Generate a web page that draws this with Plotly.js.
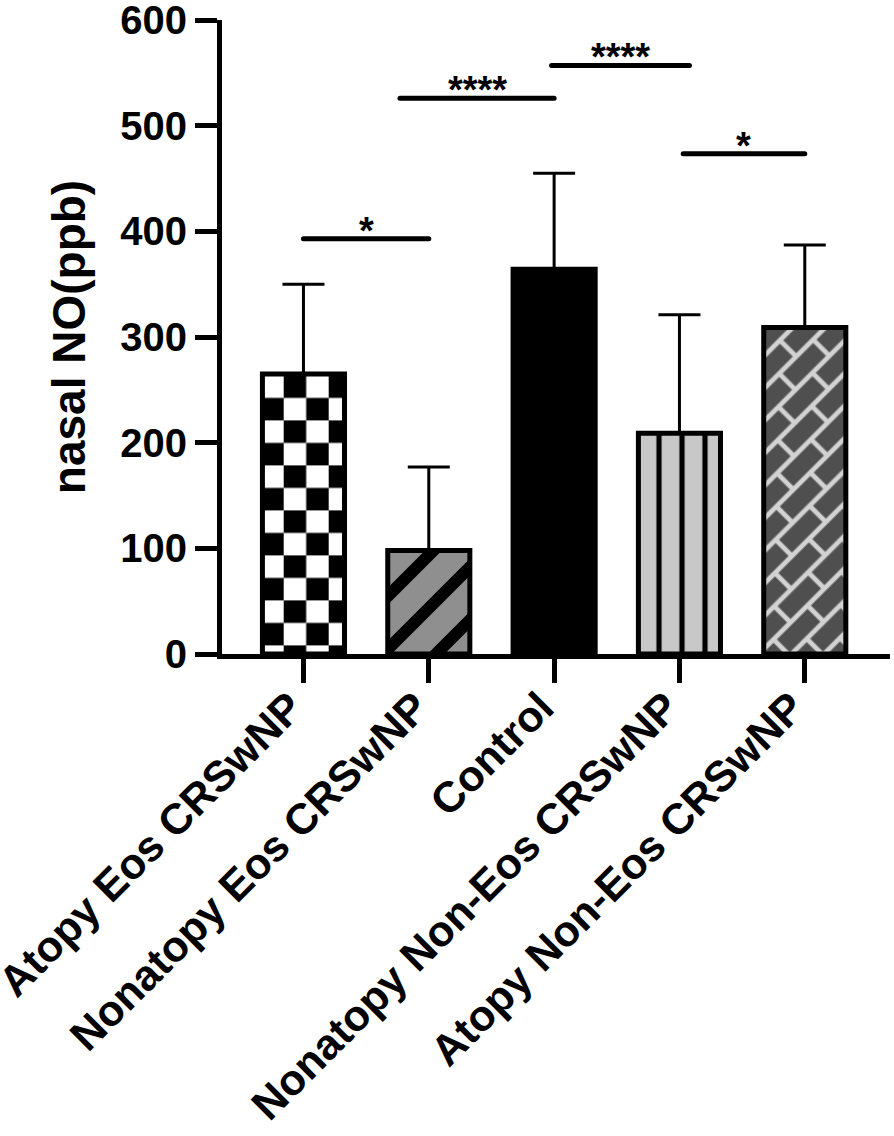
<!DOCTYPE html>
<html>
<head>
<meta charset="utf-8">
<script src="https://cdn.plot.ly/plotly-3.0.1.min.js"></script>
<style>
  html, body { margin: 0; padding: 0; background: #ffffff; }
  #chart { width: 894px; height: 1136px; }
</style>
</head>
<body>
<div id="chart"></div>
<script>
// ---- data ----
const categories = ['Atopy Eos CRSwNP', 'Nonatopy Eos CRSwNP', 'Control', 'Nonatopy Non-Eos CRSwNP', 'Atopy Non-Eos CRSwNP'];
const meanNO = [265, 98, 364, 209, 309];
const errorPlus = [85, 79, 91, 112, 78];
const yTicks = [0, 100, 200, 300, 400, 500, 600];

// significance brackets (x in category index units)
const sigX0 = [0, 0.77, 1.98, 3.03];
const sigX1 = [1, 2, 3.08, 4];
const sigY = [393, 526, 557, 473.5];
const sigLabel = ['*', '****', '****', '*'];

// ---- styles ----
const FONT = '"Liberation Sans", Arial, sans-serif';
const barColors = ['#ffffff', '#8f8f8f', '#000000', '#c8c8c8', '#4f4f4f'];
const patShape = ['x', '/', '', '|', 'x'];
const patSize = [45, 53, 10, 23, 46];
const patSolidity = [0.5, 0.32, 0.3, 0.23, 0.2];

const xIdx = categories.map((c, i) => i);

const barTrace = {
  type: 'bar',
  x: xIdx,
  y: meanNO,
  width: 0.655,
  marker: {
    color: barColors,
    line: { color: '#000000', width: 5 },
    pattern: {
      shape: patShape,
      size: patSize,
      solidity: patSolidity
    }
  },
  error_y: {
    type: 'data',
    symmetric: false,
    array: errorPlus,
    arrayminus: meanNO.map(() => 0),
    color: '#000000',
    thickness: 3,
    width: 21
  },
  hoverinfo: 'skip',
  showlegend: false
};

const lx = [], ly = [];
sigX0.forEach((x0, i) => {
  lx.push(x0, sigX1[i], null);
  ly.push(sigY[i], sigY[i], null);
});
const sigTrace = {
  type: 'scatter',
  mode: 'lines',
  x: lx,
  y: ly,
  line: { color: '#000000', width: 5 },
  connectgaps: false,
  hoverinfo: 'skip',
  showlegend: false
};

const annotations = sigLabel.map((t, i) => ({
  x: (sigX0[i] + sigX1[i]) / 2,
  y: sigY[i],
  xref: 'x', yref: 'y',
  text: '<b>' + t + '</b>',
  showarrow: false,
  yanchor: 'middle',
  yshift: 8,
  font: { family: FONT, size: 38, color: '#000000' }
}));

const layout = {
  width: 894,
  height: 1136,
  margin: { l: 222, r: 4, t: 20, b: 482, pad: 0 },
  paper_bgcolor: '#ffffff',
  plot_bgcolor: '#ffffff',
  showlegend: false,
  font: { family: FONT, color: '#000000' },
  xaxis: {
    type: 'linear',
    range: [-0.65, 4.68],
    tickvals: xIdx,
    ticktext: categories.map(c => '<b>' + c + '</b>'),
    tickangle: -45,
    tickfont: { family: FONT, size: 43, color: '#000000' },
    ticklabeloverflow: 'allow',
    ticklabelshift: -13,
    ticklabelstandoff: -18,
    showline: true, linecolor: '#000000', linewidth: 5,
    ticks: 'outside', ticklen: 24, tickwidth: 5, tickcolor: '#000000',
    showgrid: false, zeroline: false,
    fixedrange: true
  },
  yaxis: {
    range: [0, 600],
    tickvals: yTicks,
    ticktext: yTicks.map(v => '<b>' + v + '</b>'),
    tickfont: { family: FONT, size: 40, color: '#000000' },
    ticklabeloverflow: 'allow',
    showline: true, linecolor: '#000000', linewidth: 5,
    ticks: 'outside', ticklen: 22, tickwidth: 5, tickcolor: '#000000',
    showgrid: false, zeroline: false,
    title: { text: '<b>nasal NO(ppb)</b>', font: { family: FONT, size: 46, color: '#000000' }, standoff: 22 },
    fixedrange: true
  },
  annotations: annotations
};

function customizePatterns(gd) {
  const NS = 'http://www.w3.org/2000/svg';
  const pts = gd.querySelectorAll('.barlayer .point path');
  function getPat(i) {
    if (!pts[i]) return null;
    const f = pts[i].style.fill || '';
    const m = /#([^"')\s]+)/.exec(f);
    return m ? document.getElementById(m[1]) : null;
  }
  function clear(p) { while (p.firstChild) p.removeChild(p.firstChild); }
  function rect(p, x, y, w, h, c) {
    const r = document.createElementNS(NS, 'rect');
    r.setAttribute('x', x); r.setAttribute('y', y);
    r.setAttribute('width', w); r.setAttribute('height', h);
    r.setAttribute('fill', c);
    r.style.fill = c;
    p.appendChild(r);
  }
  function path(p, d, c, w) {
    const e = document.createElementNS(NS, 'path');
    e.setAttribute('d', d);
    e.setAttribute('stroke', c);
    e.setAttribute('stroke-width', w);
    e.setAttribute('fill', 'none');
    e.style.stroke = c; e.style.strokeWidth = w; e.style.fill = 'none';
    p.appendChild(e);
  }
  function setup(p, w, h, x, y, tr) {
    clear(p);
    p.setAttribute('width', w); p.setAttribute('height', h);
    p.setAttribute('x', x); p.setAttribute('y', y);
    p.setAttribute('patternTransform', tr || '');
  }
  // checkerboard (bar 0)
  let p = getPat(0);
  if (p) {
    const s = 22.5, T = 2 * s;
    setup(p, T, T, 16.7, 40.4);
    rect(p, 0, 0, T, T, '#ffffff');
    rect(p, 0, 0, s, s, '#000000');
    rect(p, s, s, s, s, '#000000');
  }
  // diagonal stripes (bar 1)
  p = getPat(1);
  if (p) {
    const S = 53;
    setup(p, S, S, 0, 0);
    rect(p, 0, 0, S, S, '#8f8f8f');
    path(p, 'M' + (-S / 2) + ',' + (S / 2) + 'L' + (S / 2) + ',' + (-S / 2) +
            'M0,' + S + 'L' + S + ',0' +
            'M' + (S / 2) + ',' + (3 * S / 2) + 'L' + (3 * S / 2) + ',' + (S / 2), '#000000', 12);
  }
  // vertical lines (bar 3)
  p = getPat(3);
  if (p) {
    const S = 23, lw = 5.2;
    setup(p, S, S, 11.5, 0);
    rect(p, 0, 0, S, S, '#c8c8c8');
    rect(p, S / 2 - lw / 2, 0, lw, S, '#000000');
  }
  // diagonal brick (bar 4)
  p = getPat(4);
  if (p) {
    const L = 48, c = 23, w = 4.8, bg = '#4f4f4f', fg = '#d2d2d2';
    setup(p, L, 2 * c, 0, 0, 'rotate(-45)');
    rect(p, 0, 0, L, 2 * c, bg);
    rect(p, 0, 0, L, w / 2, fg);
    rect(p, 0, 2 * c - w / 2, L, w / 2, fg);
    rect(p, 0, c - w / 2, L, w, fg);
    rect(p, 0, 0, w / 2, c, fg);
    rect(p, L - w / 2, 0, w / 2, c, fg);
    rect(p, L / 2 - w / 2, c, w, c, fg);
  }
  gd.querySelectorAll('.scatterlayer .js-line').forEach(l => {
    l.style.strokeLinecap = 'round';
  });
}

const gd = document.getElementById('chart');
Plotly.newPlot(gd, [barTrace, sigTrace], layout, { displayModeBar: false, staticPlot: true })
  .then(() => customizePatterns(gd));
</script>
</body>
</html>
